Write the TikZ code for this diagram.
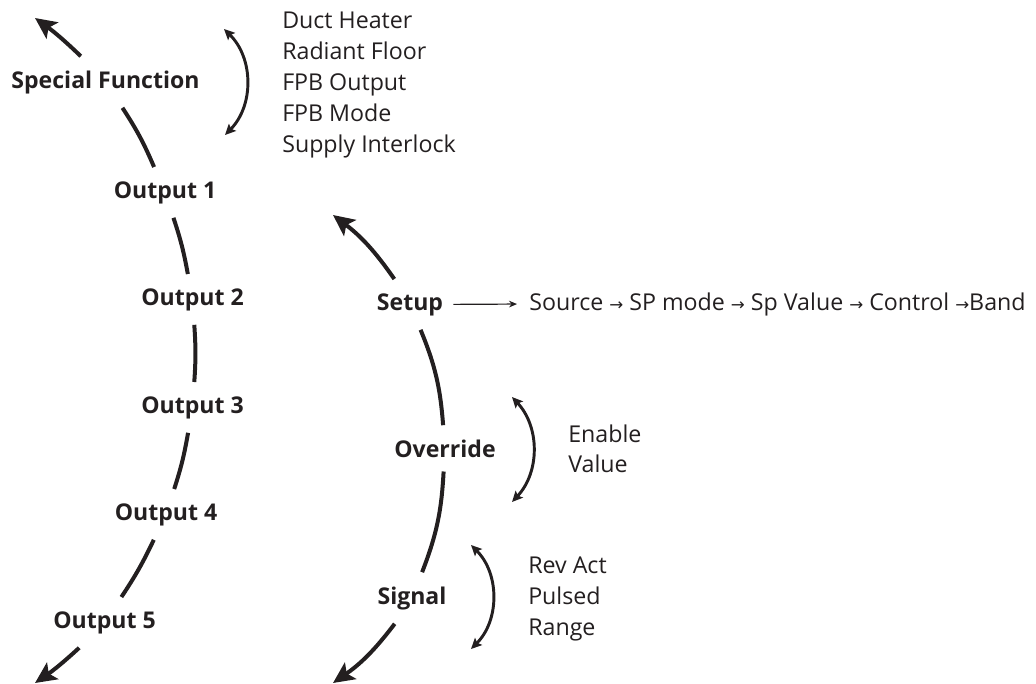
\documentclass[tikz,border=0pt]{standalone}
\usepackage{fontspec}
\setmainfont{Open Sans}
\newfontfamily\arrowfont{DejaVu Sans}
\usetikzlibrary{arrows.meta}

\definecolor{ink}{RGB}{35,31,32}
\newcommand{\nxt}{{\arrowfont\fontsize{12.5}{10}\selectfont →}}

\tikzset{
  lbl/.style={font=\bfseries\fontsize{17.3}{20}\selectfont, text=ink, inner xsep=2pt, inner ysep=10.5pt, anchor=base},
  item/.style={font=\fontsize{17.4}{20}\selectfont, text=ink, inner sep=0pt, anchor=base west},
  seg/.style={draw=ink, line width=3pt},
  segarrow/.style={seg, -{Stealth[length=16pt,width=15pt,inset=3.5pt]}},
  swing/.style={draw=ink, line width=2.2pt, {Stealth[length=8pt,width=7.5pt,inset=1.5pt]}-{Stealth[length=8pt,width=7.5pt,inset=1.5pt]}},
}

\begin{document}
\begin{tikzpicture}[x=0.75pt,y=0.75pt,yscale=-1,xscale=1]
\useasboundingbox (0,0) rectangle (1036,683);

% Text Node
\node[lbl] (sf) at (105.5,88) {Special Function};
% Text Node
\node[lbl] (o1) at (165,198) {Output 1};
% Text Node
\node[lbl] (o2) at (192.5,305) {Output 2};
% Text Node
\node[lbl] (o3) at (192.5,413) {Output 3};
% Text Node
\node[lbl] (o4) at (166,520) {Output 4};
% Text Node
\node[lbl] (o5) at (104.5,628) {Output 5};
% Text Node
\node[lbl] (setup) at (410,310) {Setup};
% Text Node
\node[lbl] (override) at (445,457) {Override};
% Text Node
\node[lbl] (signal) at (412,604) {Signal};

% Text Node
\node[item] (duct) at (282,28) {Duct Heater};
% Text Node
\node[item] (radiant) at (282,59) {Radiant Floor};
% Text Node
\node[item] (fpbout) at (282,90) {FPB Output};
% Text Node
\node[item] (fpbmode) at (282,121) {FPB Mode};
% Text Node
\node[item] (supply) at (282,152) {Supply Interlock};
% Text Node
\node[item] (chain) at (529,310) {Source \nxt{} SP mode \nxt{} Sp Value \nxt{} Control \nxt{}Band};
% Text Node
\node[item] (enable) at (568,442) {Enable};
% Text Node
\node[item] (value) at (568,472) {Value};
% Text Node
\node[item] (revact) at (528,573) {Rev Act};
% Text Node
\node[item] (pulsed) at (528,604) {Pulsed};
% Text Node
\node[item] (range) at (528,635) {Range};

% free ends
\coordinate (sftip) at (35,18);
\coordinate (o5tip) at (35,683);
\coordinate (setuptip) at (333,215);
\coordinate (sigtip) at (333,683);
\coordinate (sfa) at (224,29);
\coordinate (sfb) at (225,135);
\coordinate (ova) at (512,397);
\coordinate (ovb) at (512,502);
\coordinate (sga) at (471,545);
\coordinate (sgb) at (471,649);

%Curve Lines - outputs
\draw[segarrow] (sf) to[bend left=4] (sftip);
\draw[seg] (sf) to[bend right=5] (o1);
\draw[seg] (o1) to[bend right=4] (o2);
\draw[seg] (o2) to[bend right=4] (o3);
\draw[seg] (o3) to[bend right=4] (o4);
\draw[seg] (o4) to[bend right=4] (o5);
\draw[segarrow] (o5) to[bend right=4] (o5tip);

%Curve Lines - setup
\draw[segarrow] (setup) to[bend left=9] (setuptip);
\draw[seg] (setup) to[bend right=9] (override);
\draw[seg] (override) to[bend right=9] (signal);
\draw[segarrow] (signal) to[bend right=9] (sigtip);

%Straight Lines
\draw[draw=ink, line width=0.9pt, -{Stealth[length=6pt,width=5pt]}, shorten <=5.5pt, shorten >=9pt] (setup.east) -- (chain.west);

%Curve Lines - choices
\draw[swing] (sfa) to[bend right=45] (sfb);
\draw[swing] (ova) to[bend right=43] (ovb);
\draw[swing] (sga) to[bend right=45] (sgb);

\end{tikzpicture}
\end{document}
